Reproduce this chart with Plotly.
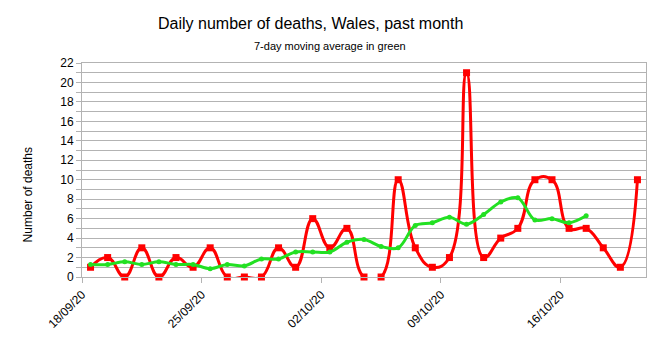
import plotly.graph_objects as go

dates = ["2020-09-18", "2020-09-19", "2020-09-20", "2020-09-21", "2020-09-22", "2020-09-23",
         "2020-09-24", "2020-09-25", "2020-09-26", "2020-09-27", "2020-09-28", "2020-09-29",
         "2020-09-30", "2020-10-01", "2020-10-02", "2020-10-03", "2020-10-04", "2020-10-05",
         "2020-10-06", "2020-10-07", "2020-10-08", "2020-10-09", "2020-10-10", "2020-10-11",
         "2020-10-12", "2020-10-13", "2020-10-14", "2020-10-15", "2020-10-16", "2020-10-17",
         "2020-10-18", "2020-10-19", "2020-10-20"]
deaths = [1, 2, 0, 3, 0, 2, 1, 3, 0, 0, 0, 3, 1, 6, 3, 5, 0, 0, 10, 3, 1, 2, 21, 2, 4, 5,
          10, 10, 5, 5, 3, 1, 10]
avg_dates = dates[:30]
avg7 = [1.29, 1.29, 1.57, 1.29, 1.57, 1.29, 1.29, 0.86, 1.29, 1.14, 1.86, 1.86, 2.57, 2.57,
        2.57, 3.57, 3.86, 3.14, 3.0, 5.29, 5.57, 6.14, 5.43, 6.43, 7.71, 8.14, 5.86, 6.0,
        5.57, 6.29]
tick_dates = ["2020-09-18", "2020-09-25", "2020-10-02", "2020-10-09", "2020-10-16"]
tick_labels = ["18/09/20", "25/09/20", "02/10/20", "09/10/20", "16/10/20"]

W, H = 659, 340
L, R, T, B = 82, 13, 62.5, 63.3
pw, ph = W - L - R, H - T - B

DAY_MS = 86400000
fig = go.Figure()
fig.add_trace(go.Scatter(
    x=dates, y=deaths, mode="lines+markers",
    line=dict(color="#ff0000", width=3, shape="spline", smoothing=1.3),
    marker=dict(symbol="square", size=7, color="#ff0000"),
    xperiod=DAY_MS, xperiodalignment="middle", cliponaxis=False,
    showlegend=False))
fig.add_trace(go.Scatter(
    x=avg_dates, y=avg7, mode="lines+markers",
    line=dict(color="#22e022", width=3, shape="spline", smoothing=1.0),
    marker=dict(symbol="circle", size=5, color="#22e022"),
    xperiod=DAY_MS, xperiodalignment="middle", cliponaxis=False,
    showlegend=False))


def px_x(x):
    return (x - L) / pw


def px_y(y):
    return (H - B - y) / ph


fig.update_layout(
    width=W, height=H,
    margin=dict(l=L, r=R, t=T, b=B),
    paper_bgcolor="white", plot_bgcolor="white",
    font=dict(family="Liberation Sans, Arial, sans-serif", size=12, color="#000000"),
    annotations=[
        dict(text="Daily number of deaths, Wales, past month", x=px_x(310), y=px_y(23),
             xref="paper", yref="paper", xanchor="center", yanchor="middle",
             showarrow=False, font=dict(size=16)),
        dict(text="7-day moving average in green", x=px_x(330), y=px_y(45.5),
             xref="paper", yref="paper", xanchor="center", yanchor="middle",
             showarrow=False, font=dict(size=11)),
        dict(text="Number of deaths", x=px_x(28), y=px_y(195), textangle=-90,
             xref="paper", yref="paper", xanchor="center", yanchor="middle",
             showarrow=False, font=dict(size=12)),
    ],
)

fig.update_xaxes(
    type="date", range=["2020-09-18", "2020-10-21"], automargin=False,
    tickvals=tick_dates, ticktext=tick_labels, tickangle=-45,
    ticks="outside", ticklen=5, tickcolor="#b3b3b3",
    showline=True, linecolor="#b3b3b3", linewidth=1, mirror=True,
    showgrid=False, zeroline=False, tickfont=dict(size=12))
fig.update_yaxes(
    range=[0, 22], dtick=2, tick0=0, automargin=False,
    ticks="outside", ticklen=5, tickcolor="#b3b3b3",
    showline=True, linecolor="#b3b3b3", linewidth=1, mirror=True,
    showgrid=True, gridcolor="#b3b3b3", gridwidth=1,
    minor=dict(dtick=1, showgrid=True, gridcolor="#b3b3b3", gridwidth=1,
               ticks="outside", ticklen=5, tickcolor="#b3b3b3"),
    zeroline=False, tickfont=dict(size=12))

fig.write_html("out.html")
